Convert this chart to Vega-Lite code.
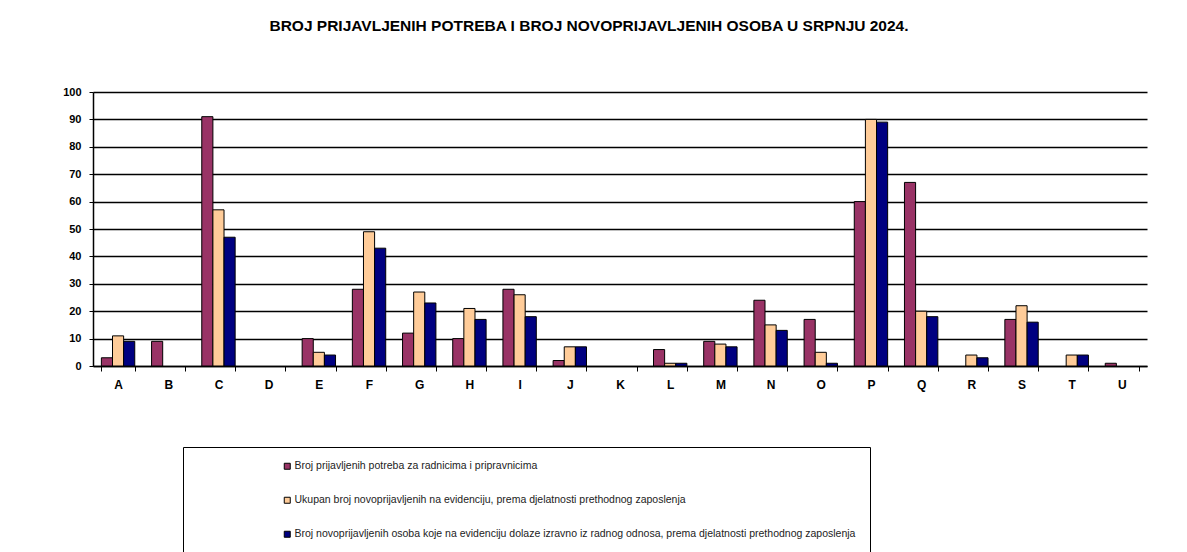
{
  "$schema": "https://vega.github.io/schema/vega-lite/v6.json",
  "width": 1054,
  "height": 274,
  "autosize": {"type": "none"},
  "padding": {"left": 93, "top": 92, "right": 40, "bottom": 186},
  "background": "white",
  "title": {
    "text": "BROJ PRIJAVLJENIH POTREBA I BROJ NOVOPRIJAVLJENIH OSOBA U SRPNJU 2024.",
    "font": "Liberation Sans",
    "fontSize": 15.5,
    "fontWeight": "bold",
    "color": "black",
    "anchor": "middle",
    "dx": -31,
    "offset": 52
  },
  "data": {
    "values": [
      {"k": "A", "s": "a", "v": 3}, {"k": "A", "s": "b", "v": 11}, {"k": "A", "s": "c", "v": 9},
      {"k": "B", "s": "a", "v": 9}, {"k": "B", "s": "b", "v": 0}, {"k": "B", "s": "c", "v": 0},
      {"k": "C", "s": "a", "v": 91}, {"k": "C", "s": "b", "v": 57}, {"k": "C", "s": "c", "v": 47},
      {"k": "D", "s": "a", "v": 0}, {"k": "D", "s": "b", "v": 0}, {"k": "D", "s": "c", "v": 0},
      {"k": "E", "s": "a", "v": 10}, {"k": "E", "s": "b", "v": 5}, {"k": "E", "s": "c", "v": 4},
      {"k": "F", "s": "a", "v": 28}, {"k": "F", "s": "b", "v": 49}, {"k": "F", "s": "c", "v": 43},
      {"k": "G", "s": "a", "v": 12}, {"k": "G", "s": "b", "v": 27}, {"k": "G", "s": "c", "v": 23},
      {"k": "H", "s": "a", "v": 10}, {"k": "H", "s": "b", "v": 21}, {"k": "H", "s": "c", "v": 17},
      {"k": "I", "s": "a", "v": 28}, {"k": "I", "s": "b", "v": 26}, {"k": "I", "s": "c", "v": 18},
      {"k": "J", "s": "a", "v": 2}, {"k": "J", "s": "b", "v": 7}, {"k": "J", "s": "c", "v": 7},
      {"k": "K", "s": "a", "v": 0}, {"k": "K", "s": "b", "v": 0}, {"k": "K", "s": "c", "v": 0},
      {"k": "L", "s": "a", "v": 6}, {"k": "L", "s": "b", "v": 1}, {"k": "L", "s": "c", "v": 1},
      {"k": "M", "s": "a", "v": 9}, {"k": "M", "s": "b", "v": 8}, {"k": "M", "s": "c", "v": 7},
      {"k": "N", "s": "a", "v": 24}, {"k": "N", "s": "b", "v": 15}, {"k": "N", "s": "c", "v": 13},
      {"k": "O", "s": "a", "v": 17}, {"k": "O", "s": "b", "v": 5}, {"k": "O", "s": "c", "v": 1},
      {"k": "P", "s": "a", "v": 60}, {"k": "P", "s": "b", "v": 90}, {"k": "P", "s": "c", "v": 89},
      {"k": "Q", "s": "a", "v": 67}, {"k": "Q", "s": "b", "v": 20}, {"k": "Q", "s": "c", "v": 18},
      {"k": "R", "s": "a", "v": 0}, {"k": "R", "s": "b", "v": 4}, {"k": "R", "s": "c", "v": 3},
      {"k": "S", "s": "a", "v": 17}, {"k": "S", "s": "b", "v": 22}, {"k": "S", "s": "c", "v": 16},
      {"k": "T", "s": "a", "v": 0}, {"k": "T", "s": "b", "v": 4}, {"k": "T", "s": "c", "v": 4},
      {"k": "U", "s": "a", "v": 1}, {"k": "U", "s": "b", "v": 0}, {"k": "U", "s": "c", "v": 0}
    ]
  },
  "mark": {"type": "bar", "stroke": "black", "strokeWidth": 1},
  "encoding": {
    "x": {
      "field": "k",
      "type": "nominal",
      "title": null,
      "scale": {"paddingInner": 0.335, "paddingOuter": 0.167},
      "axis": {
        "labelAngle": 0,
        "labelFont": "Liberation Sans",
        "labelFontSize": 12,
        "labelFontWeight": "bold",
        "labelColor": "black",
        "labelPadding": 8,
        "tickBand": "extent",
        "tickSize": 5,
        "tickColor": "black",
        "domainColor": "black",
        "domainWidth": 1.5,
        "grid": false
      }
    },
    "xOffset": {"field": "s", "type": "nominal", "sort": ["a", "b", "c"], "scale": {"paddingInner": 0, "paddingOuter": 0}},
    "y": {
      "field": "v",
      "type": "quantitative",
      "title": null,
      "scale": {"domain": [0, 100], "nice": false},
      "axis": {
        "values": [0, 10, 20, 30, 40, 50, 60, 70, 80, 90, 100],
        "labelFont": "Liberation Sans",
        "labelFontSize": 11,
        "labelFontWeight": "bold",
        "labelColor": "black",
        "labelPadding": 8,
        "tickSize": 4,
        "tickColor": "black",
        "domainColor": "black",
        "domainWidth": 1.5,
        "grid": true,
        "gridColor": "black",
        "gridWidth": 1.3,
        "gridOpacity": 1
      }
    },
    "strokeOpacity": {"condition": {"test": "datum.v == 0", "value": 0}, "value": 1},
    "color": {
      "field": "s",
      "type": "nominal",
      "scale": {"domain": ["a", "b", "c"], "range": ["#993366", "#FFCC99", "#000080"]},
      "legend": {
        "title": null,
        "orient": "none",
        "legendX": 90,
        "legendY": 355,
        "direction": "vertical",
        "labelExpr": "datum.value == 'a' ? 'Broj prijavljenih potreba za radnicima i pripravnicima' : datum.value == 'b' ? 'Ukupan broj novoprijavljenih na evidenciju, prema djelatnosti prethodnog zaposlenja' : 'Broj novoprijavljenih osoba koje na evidenciju dolaze izravno iz radnog odnosa, prema djelatnosti prethodnog zaposlenja'",
        "labelFont": "Liberation Sans",
        "labelFontSize": 10.5,
        "labelColor": "#222222",
        "labelLimit": 900,
        "labelOffset": 2,
        "symbolType": "square",
        "symbolSize": 36,
        "symbolStrokeColor": "black",
        "symbolStrokeWidth": 1,
        "symbolOffset": 85,
        "rowPadding": 23,
        "padding": 14,
        "strokeColor": "black",
        "fillColor": "white"
      }
    }
  },
  "config": {
    "view": {"stroke": null}
  }
}
